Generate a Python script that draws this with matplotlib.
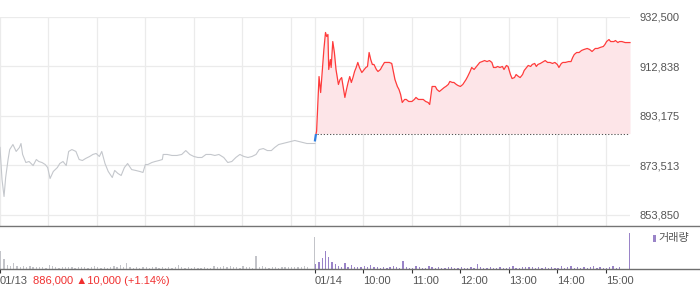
import numpy as np
import matplotlib
matplotlib.use("Agg")
import matplotlib.pyplot as plt
from matplotlib.lines import Line2D
from matplotlib.patches import Rectangle

# 장 운영 시간 (09:00 ~ 15:30 = 390분)
SESSION = 390
BASE_PRICE = 886000

# 01/13 (전일) 가격 : 09:00 기준 경과 분
D1_MIN = [0, 2.5, 5, 7, 10, 12, 16, 20, 24, 26,
          28, 32, 36, 41, 45, 48, 52, 56, 59, 62,
          66, 71, 74, 78, 82, 85, 89, 94, 98, 102,
          106, 111, 115, 119, 123, 126, 130, 134, 139, 142,
          146, 150, 154, 158, 163, 168, 173, 177, 180, 183,
          188, 192, 197, 201, 202, 207, 213, 219, 225, 230,
          235, 240, 245, 250, 255, 261, 266, 271, 277, 282,
          287, 292, 297, 302, 307, 312, 317, 321, 326, 331,
          336, 340, 345, 350, 355, 360, 365, 370, 375, 380,
          386, 390]
D1_PRICE = [880500, 867750, 861000, 868550, 875700, 879650, 881650, 878900, 880450, 882050,
            877700, 874500, 874900, 873300, 875700, 874900, 874500, 873700, 872500, 868150,
            870950, 872500, 874100, 874900, 873300, 878900, 879650, 878900, 875700, 875300,
            876100, 876900, 877700, 878100, 876900, 878900, 874100, 870950, 868550, 871350,
            870150, 869350, 872500, 874100, 871700, 871350, 870950, 870550, 873700, 873700,
            874500, 874900, 875300, 875700, 877700, 877700, 877300, 877300, 877700, 879250,
            877700, 876900, 876500, 876500, 877700, 877700, 877300, 877700, 876500, 874500,
            874900, 876500, 877700, 876900, 876500, 876900, 877700, 879650, 880050, 879250,
            879250, 880450, 881650, 882050, 882450, 882850, 883250, 882850, 882450, 882050,
            882050, 882050]

# 01/14 (당일) 가격
D2_MIN = [0, 1, 2, 3, 5, 7, 9, 11, 13, 14.5,
          16, 17, 19, 20, 22, 24, 26, 29, 31, 33,
          35, 37, 39, 41, 43, 45, 47, 49, 51, 53,
          55, 58, 60, 63, 65, 67, 69, 71, 73, 76,
          78, 81, 83, 86, 88, 92, 95, 97, 99, 102,
          104, 106, 108, 111, 113, 116, 120, 123, 125, 128,
          131, 134, 137, 140, 142, 144, 145, 149, 151, 154,
          157, 160, 162, 165, 167, 170, 172, 175, 177, 180,
          183, 187, 189, 192, 194, 197, 199, 201, 204, 207,
          210, 213, 216, 219, 221, 224, 226, 229, 232, 234,
          237, 239, 242, 244, 247, 249, 252, 254, 257, 259,
          262, 264, 267, 269, 272, 274, 276, 279, 281, 285,
          288, 291, 294, 297, 300, 302, 305, 307, 310, 314,
          317, 319, 321, 324, 327, 330, 333, 337, 340, 343,
          347, 350, 353, 357, 359, 361, 364, 366, 370, 372,
          375, 377, 380, 384, 390]
D2_PRICE = [883300, 885400, 887000, 894350, 908650, 902300, 910650, 919400, 926150, 924550,
            925350, 911450, 915400, 912250, 922550, 918200, 911450, 905500, 907450, 908250,
            904300, 900350, 903500, 906300, 908650, 906300, 908250, 910650, 912250, 914250,
            912250, 910250, 911050, 912250, 912650, 918200, 915400, 913450, 913450, 911450,
            910650, 911450, 912650, 914250, 914250, 914250, 913850, 910650, 907450, 904700,
            903500, 901500, 898350, 899550, 899550, 898750, 898750, 899550, 900350, 899550,
            899550, 899550, 898750, 898350, 897550, 902300, 904700, 904700, 903500, 902700,
            903500, 904300, 904700, 905500, 906700, 906300, 906300, 905500, 905100, 904700,
            905500, 907450, 908650, 910650, 912250, 911450, 912250, 913050, 914250, 914600,
            915000, 914600, 915000, 914250, 912250, 912250, 912650, 912250, 912650, 911450,
            913050, 912650, 909450, 907850, 908250, 909450, 908650, 908250, 909450, 911050,
            912250, 913050, 912650, 913450, 913850, 912650, 913450, 913850, 914250, 915000,
            914250, 914250, 913850, 914250, 913450, 912250, 913850, 914250, 914250, 914600,
            914600, 916200, 917400, 918200, 918200, 919000, 919400, 919800, 919400, 918600,
            919800, 919800, 920200, 920600, 921400, 922550, 923350, 922550, 922550, 922950,
            922150, 922550, 922550, 922150, 922150]

# 거래량 (4분 단위, 상대값)
VOL_BIN = 4
D1_VOL = [17.7, 10, 4, 2.5, 6, 2.5, 2, 3, 2, 2.5, 1.5, 1.5,
          1.5, 2, 1, 3.5, 2.5, 1.5, 1, 1.5, 2, 1.5, 2, 1,
          1.5, 2, 1.5, 1, 2, 2.5, 1.5, 1, 2, 1, 2, 3,
          2, 4, 1.5, 6, 1.5, 1, 2, 1, 1.5, 2, 1, 1.5,
          2, 1, 1.5, 1, 1.5, 1, 2, 4, 1.5, 1, 1.5, 1,
          1.5, 1, 1, 1.5, 1, 1, 2.5, 2, 2, 2.5, 2, 2.5,
          1.5, 2, 1, 2.5, 1.5, 2, 1, 13, 1.5, 2.5, 1.5, 1,
          1.5, 2, 1, 2, 1.5, 2, 1.5, 2, 1.5, 2, 2.5, 1.5]
D2_VOL = [5, 7, 11, 18, 12, 7, 5, 3, 2, 6, 2, 4,
          2, 1.5, 2, 3, 1.5, 4, 2, 1.5, 1, 2, 1, 1.5,
          2.5, 1.5, 1, 8, 1.5, 1, 1, 2.5, 1.5, 1, 1, 2.5,
          1.5, 1, 1.5, 1, 1, 2, 1.5, 1, 1, 1.5, 1, 1,
          1.5, 1, 5, 1.5, 1, 1, 1.5, 1, 1, 1.5, 1, 1,
          1.5, 2.5, 1, 1, 1.5, 2, 2, 2, 1, 1.5, 1, 2,
          1, 1.5, 1, 1, 2.5, 1, 1.5, 2.5, 1, 1.5, 1, 1.5,
          1, 1.5, 2.5, 1, 1.5, 1, 1, 1.5, 2.5, 1, 1.5, 0]
D1_CLOSE_VOL = 32   # 동시호가
D2_CLOSE_VOL = 36

Y_TICKS = [853850, 873512.5, 893175, 912837.5, 932500]
Y_LABELS = ["853,850", "873,513", "893,175", "912,838", "932,500"]
X_TICKS = [0, 390, 450, 510, 570, 630, 690, 750]
X_LABELS = ["01/13", "01/14", "10:00", "11:00", "12:00", "13:00", "14:00", "15:00"]
HEADLINE = "886,000 \u25b210,000 (+1.14%)"

RED = "#ff3b3b"
BLUE = "#2f7fe0"
GRAY_LINE = "#c4c7cc"
GRAY_VOL = "#c3c4c9"
PURPLE = "#9a84c8"
GRID = "#ebebeb"
AXIS = "#6e6e6e"
TEXT = "#555555"
FS = 8

plt.rcParams["font.family"] = ["Liberation Sans", "DejaVu Sans", "Noto Sans CJK KR"]

W, H = 700, 289
fig = plt.figure(figsize=(W / 100, H / 100), dpi=100)
ax = fig.add_axes([0, (H - 225.5) / H, 630 / W, 209 / H])
axv = fig.add_axes([0, (H - 268.5) / H, 630 / W, 42 / H])

d1_x = np.array(D1_MIN)
d2_x = np.array(D2_MIN) + SESSION
d2_y = np.array(D2_PRICE)

# 가격 차트
ax.plot(d1_x, D1_PRICE, color=GRAY_LINE, lw=0.8, zorder=3)
ax.fill_between(d2_x, d2_y, BASE_PRICE, where=d2_y >= BASE_PRICE,
                interpolate=True, color="#fde5e8", lw=0, zorder=2)
up, = ax.plot(d2_x, d2_y, color=RED, lw=0.9, zorder=4)
dn, = ax.plot(d2_x, d2_y, color=BLUE, lw=1.6, zorder=4)
up.set_clip_path(Rectangle((SESSION, BASE_PRICE), SESSION + 10, 1e6, transform=ax.transData))
dn.set_clip_path(Rectangle((SESSION - 5, BASE_PRICE - 1e6), SESSION + 10, 1e6, transform=ax.transData))
ax.hlines(BASE_PRICE, SESSION + 2, 2 * SESSION, colors="#555555", lw=0.75,
          linestyles=(0, (1.2, 1.8)), zorder=3)

ax.set_xlim(0, 2 * SESSION)
ax.set_ylim(849483, 932500)
grid_x = [0] + list(range(60, SESSION, 60)) + list(range(SESSION, 2 * SESSION, 60))
ax.set_xticks(grid_x)
ax.set_xticklabels([])
ax.tick_params(axis="x", length=0)
ax.set_yticks(Y_TICKS)
ax.set_yticklabels(Y_LABELS)
ax.yaxis.tick_right()
ax.tick_params(axis="y", length=0, pad=6.5, labelsize=FS, labelcolor=TEXT)
ax.grid(True, color=GRID, lw=0.9, zorder=0)
for s in ax.spines.values():
    s.set_visible(False)

# 거래량
v1_x = np.arange(len(D1_VOL)) * VOL_BIN + 1
v2_x = np.arange(len(D2_VOL)) * VOL_BIN + 1 + SESSION
axv.bar(v1_x, D1_VOL, width=1.7, color=GRAY_VOL, lw=0)
axv.bar([SESSION - 1], [D1_CLOSE_VOL], width=1.0, color=GRAY_VOL, lw=0)
axv.bar(v2_x, D2_VOL, width=1.7, color=PURPLE, lw=0)
axv.bar([2 * SESSION - 0.5], [D2_CLOSE_VOL], width=1.0, color=PURPLE, lw=0)
axv.set_xlim(0, 2 * SESSION)
axv.set_ylim(0, 42)
axv.set_yticks([])
axv.set_xticks(X_TICKS)
axv.set_xticklabels(X_LABELS, ha="left")
axv.tick_params(axis="x", direction="out", length=3, width=0.8, color="#333333",
                pad=2.5, labelsize=FS, labelcolor=TEXT)
for s in axv.spines.values():
    s.set_visible(False)

# 전체 폭 구분선
fig.add_artist(Line2D([0, 1], [(H - 225.5) / H] * 2, color=AXIS, lw=1.0))
fig.add_artist(Line2D([0, 1], [(H - 226.8) / H] * 2, color="#e6e6e6", lw=0.8))
fig.add_artist(Line2D([0, 1], [(H - 268.5) / H] * 2, color=AXIS, lw=1.0))

fig.text(33 / W, (H - 284.5) / H, HEADLINE, color="#f03030", fontsize=FS, va="baseline")

# 범례
fig.add_artist(Rectangle((653 / W, (H - 241.5) / H), 2.5 / W, 6.5 / H,
                         transform=fig.transFigure, color=PURPLE, lw=0))
fig.text(658 / W, (H - 238.5) / H, "거래량", color=TEXT, fontsize=FS, va="center",
         family=["Noto Sans CJK KR", "DejaVu Sans"])

fig.savefig("out.png", dpi=100)
